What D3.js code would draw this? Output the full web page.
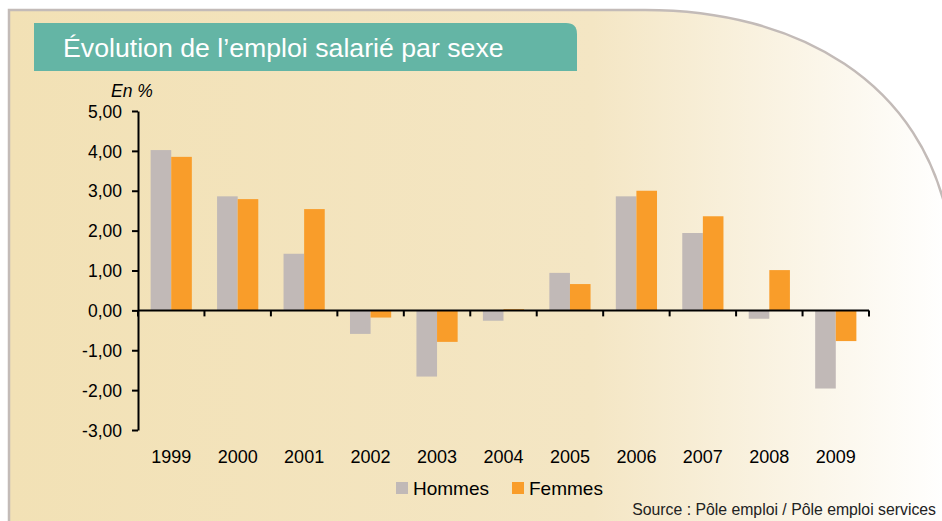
<!DOCTYPE html>
<html>
<head>
<meta charset="utf-8">
<script src="https://cdn.jsdelivr.net/npm/d3@7"></script>
<style>
  body { margin: 0; background: #fff; }
  svg { display: block; font-family: "Liberation Sans", Arial, sans-serif; }
</style>
</head>
<body>
<svg id="chart"></svg>
<script>
const years = ["1999", "2000", "2001", "2002", "2003", "2004", "2005", "2006", "2007", "2008", "2009"];
const hommes = [4.02, 2.86, 1.42, -0.59, -1.66, -0.26, 0.94, 2.86, 1.94, -0.21, -1.96];
const femmes = [3.85, 2.79, 2.54, -0.18, -0.79, 0.03, 0.66, 3.00, 2.36, 1.01, -0.77];
const seriesNames = ["Hommes", "Femmes"];
const yTicks = [5, 4, 3, 2, 1, 0, -1, -2, -3];

const W = 942, H = 521;
const colors = { Hommes: "#c1b9b7", Femmes: "#f99d2a" };
const FONT = '"Liberation Sans", Arial, sans-serif';

const svg = d3.select("#chart").attr("width", W).attr("height", H);

// background panel with gradient and rounded top-right corner
const defs = svg.append("defs");
const grad = defs.append("linearGradient").attr("id", "bg").attr("x1", 0).attr("x2", 1).attr("y1", 0).attr("y2", 0);
grad.append("stop").attr("offset", "0%").attr("stop-color", "#f2e1b5");
grad.append("stop").attr("offset", "62%").attr("stop-color", "#f4e6c4");
grad.append("stop").attr("offset", "100%").attr("stop-color", "#ffffff");

svg.append("path").attr("d", "M9,530 L9,10 L645,10 C795,10 925,80 950,230 L950,530 Z").attr("fill", "url(#bg)");
svg.append("path")
  .attr("d", "M9,530 L9,10 L645,10 C795,10 925,80 950,230")
  .attr("fill", "none").attr("stroke", "#c3bbb8").attr("stroke-width", 2.5);

// title banner
svg.append("path")
  .attr("d", "M34,23 L566,23 Q577,23 577,34 L577,71 L34,71 Z")
  .attr("fill", "#64b5a5");
svg.append("text").attr("x", 63).attr("y", 57)
  .attr("fill", "#fff").attr("font-size", 26.7)
  .text("Évolution de l’emploi salarié par sexe");

// scales
const x = d3.scaleBand().domain(years).range([138, 869]).paddingInner(0.38).paddingOuter(0.19);
const sub = d3.scaleBand().domain(seriesNames).range([0, x.bandwidth()]);
const y = d3.scaleLinear().domain([-3, 5]).range([430, 111]);

const data = years.map((yr, i) => ({ year: yr, Hommes: hommes[i], Femmes: femmes[i] }));

// bars
const groups = svg.append("g").selectAll("g").data(data).join("g")
  .attr("transform", d => `translate(${x(d.year)},0)`);
groups.selectAll("rect")
  .data(d => seriesNames.map(k => ({ key: k, value: d[k] })))
  .join("rect")
  .attr("x", d => sub(d.key))
  .attr("width", sub.bandwidth())
  .attr("y", d => Math.min(y(d.value), y(0)))
  .attr("height", d => Math.abs(y(d.value) - y(0)))
  .attr("fill", d => colors[d.key]);

// y axis (comma decimals, plain hyphen for negatives)
const yAxis = svg.append("g").attr("transform", "translate(138,0)")
  .call(d3.axisLeft(y).tickValues(yTicks).tickSize(6).tickSizeOuter(0)
    .tickFormat(d => d.toFixed(2).replace(".", ",")));
yAxis.attr("font-family", FONT);
yAxis.select(".domain").attr("stroke", "#000").attr("stroke-width", 2);
yAxis.selectAll(".tick line").attr("stroke-width", 2);
yAxis.selectAll("text").attr("font-size", 17.5).attr("fill", "#000").attr("x", -16).attr("dy", "0.35em");

// x axis at zero with ticks at band boundaries
const bounds = d3.range(years.length + 1).map(i => 138 + i * (731 / years.length));
const xAxis = svg.append("g");
xAxis.append("line").attr("x1", 138).attr("x2", 869).attr("y1", y(0)).attr("y2", y(0))
  .attr("stroke", "#000").attr("stroke-width", 2);
xAxis.selectAll("line.t").data(bounds).join("line").attr("class", "t")
  .attr("x1", d => d).attr("x2", d => d).attr("y1", y(0)).attr("y2", y(0) + 6)
  .attr("stroke", "#000").attr("stroke-width", 2);

// category labels
svg.append("g").selectAll("text").data(years).join("text")
  .attr("x", d => x(d) + x.bandwidth() / 2).attr("y", 463)
  .attr("text-anchor", "middle").attr("font-size", 18).attr("fill", "#000")
  .text(d => d);

// unit label
svg.append("text").attr("x", 111).attr("y", 97).attr("font-size", 17.5)
  .attr("font-style", "italic").text("En %");

// legend
const legend = svg.append("g");
const lx = [396, 512];
seriesNames.forEach((k, i) => {
  legend.append("rect").attr("x", lx[i]).attr("y", 482).attr("width", 12).attr("height", 12).attr("fill", colors[k]);
  legend.append("text").attr("x", lx[i] + 17).attr("y", 495).attr("font-size", 19).text(k);
});

// source
svg.append("text").attr("x", 936).attr("y", 515).attr("text-anchor", "end")
  .attr("font-size", 15.8).attr("fill", "#222").text("Source : Pôle emploi / Pôle emploi services");
</script>
</body>
</html>
